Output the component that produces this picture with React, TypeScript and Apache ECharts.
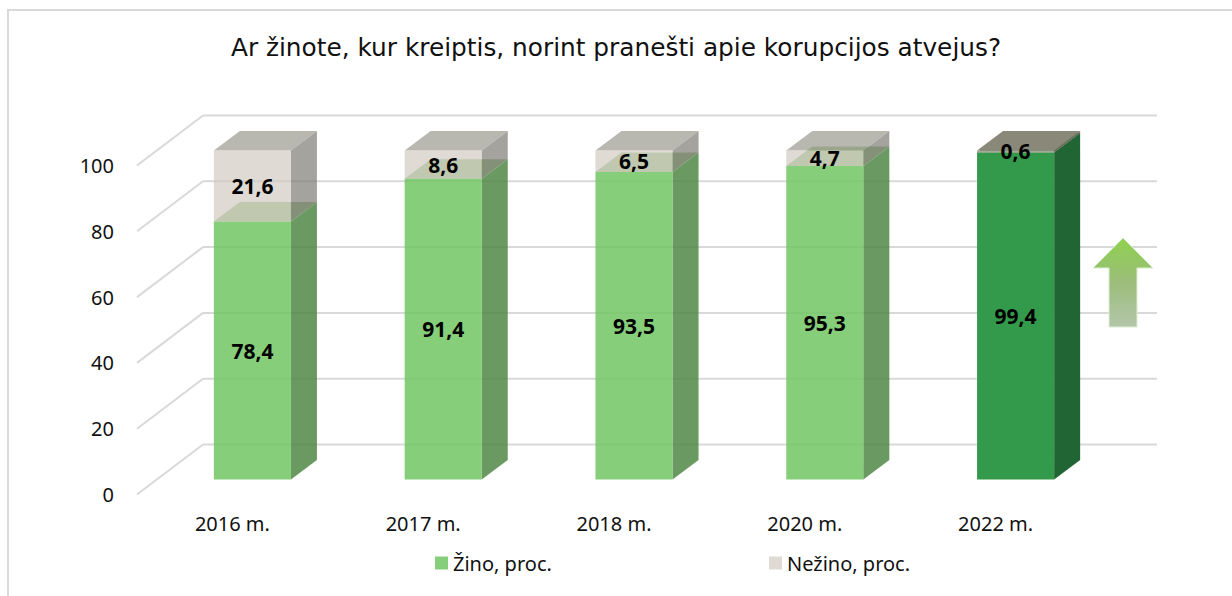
import React, { useEffect, useRef } from "react";
import * as echarts from "echarts";

// ---- data ----
const chartTitle = "Ar žinote, kur kreiptis, norint pranešti apie korupcijos atvejus?";
const categories = ["2016 m.", "2017 m.", "2018 m.", "2020 m.", "2022 m."];
const zino = [78.4, 91.4, 93.5, 95.3, 99.4];
const nezino = [21.6, 8.6, 6.5, 4.7, 0.6];
const yTicks = [0, 20, 40, 60, 80, 100];
const seriesNames = ["Žino, proc.", "Nežino, proc."];

// ---- geometry / styles ----
const FONT = "Noto Sans";
const TITLE_FONT = "DejaVu Sans";
const WALL_DX = 66;
const WALL_DY = -50;
const BAR_OFF_DX = 20;
const BAR_OFF_DY = -15;
const BAR_DX = 26;
const BAR_DY = -19.5;
const BAR_W_RATIO = 0.404;
const GRID_COLOR = "#D9D9D9";

type Palette = { front: string; side: string; top: string };
const zinoPalette: Palette = {
  front: "rgba(113,197,99,0.85)",
  side: "rgba(80,136,70,0.85)",
  top: "rgba(134,180,113,0.85)",
};
const zinoHighlight: Palette = { front: "#349A4B", side: "#226535", top: "#2A7A3A" };
const nezinoPalette: Palette = {
  front: "rgba(209,204,194,0.7)",
  side: "rgba(126,124,115,0.7)",
  top: "rgba(155,154,142,0.7)",
};
const nezinoHighlight: Palette = { front: "#A8A698", side: "#6F6D60", top: "#8A8878" };

const fmt = (v: number) => String(v).replace(".", ",");

function makeBarRender(normal: Palette, highlight: Palette, labels: number[]) {
  return (params: any, api: any) => {
    const idx = api.value(0);
    const base = api.value(1);
    const top = api.value(2);
    const p0 = api.coord([idx, base]);
    const p1 = api.coord([idx, top]);
    const band = api.size([1, 0])[0];
    const w = band * BAR_W_RATIO;
    const xl = p0[0] - w / 2 + BAR_OFF_DX;
    const xr = xl + w;
    const yb = p0[1] + BAR_OFF_DY;
    const yt = p1[1] + BAR_OFF_DY;
    const pal = idx === categories.length - 1 ? highlight : normal;
    return {
      type: "group",
      children: [
        {
          type: "polygon",
          shape: {
            points: [
              [xr, yb],
              [xr + BAR_DX, yb + BAR_DY],
              [xr + BAR_DX, yt + BAR_DY],
              [xr, yt],
            ],
          },
          style: { fill: pal.side },
        },
        {
          type: "polygon",
          shape: {
            points: [
              [xl, yt],
              [xr, yt],
              [xr + BAR_DX, yt + BAR_DY],
              [xl + BAR_DX, yt + BAR_DY],
            ],
          },
          style: { fill: pal.top },
        },
        {
          type: "rect",
          shape: { x: xl, y: yt, width: w, height: yb - yt },
          style: { fill: pal.front },
        },
        {
          type: "text",
          style: {
            x: (xl + xr) / 2,
            y: (yt + yb) / 2,
            text: fmt(labels[idx]),
            align: "center",
            verticalAlign: "middle",
            fill: "#000000",
            font: `bold 21px "${FONT}"`,
          },
        },
      ],
    };
  };
}

export default function App() {
  const ref = useRef<HTMLDivElement>(null);

  useEffect(() => {
    document.body.style.margin = "0";
    if (!ref.current) return;
    const chart = echarts.init(ref.current, undefined, { renderer: "svg" });

    const option: any = {
      animation: false,
      backgroundColor: "#ffffff",
      textStyle: { fontFamily: FONT },
      title: {
        text: chartTitle,
        left: "center",
        top: 30,
        textStyle: { fontFamily: TITLE_FONT, fontSize: 24.8, fontWeight: "normal", color: "#111111" },
      },
      legend: [
        {
          data: [seriesNames[0]],
          left: 430,
          top: 548,
          icon: "rect",
          itemWidth: 13,
          itemHeight: 13,
          textStyle: { fontFamily: FONT, fontSize: 20, color: "#111111" },
        },
        {
          data: [seriesNames[1]],
          left: 764,
          top: 548,
          icon: "rect",
          itemWidth: 13,
          itemHeight: 13,
          textStyle: { fontFamily: FONT, fontSize: 20, color: "#111111" },
        },
      ],
      grid: { left: 137, right: 141, top: 165.5, bottom: 101.5 },
      xAxis: {
        type: "category",
        data: categories,
        axisLine: { show: false },
        axisTick: { show: false },
        splitLine: { show: false },
        axisLabel: { fontFamily: FONT, fontSize: 20, color: "#111111", margin: 19 },
      },
      yAxis: {
        type: "value",
        min: 0,
        max: 100,
        interval: 20,
        axisLine: { show: false },
        axisTick: { show: false },
        splitLine: { show: false },
        axisLabel: { fontFamily: FONT, fontSize: 20, color: "#111111", margin: 23 },
      },
      graphic: [
        {
          type: "rect",
          shape: { x: 8, y: 10, width: 1400, height: 800 },
          style: { fill: "none", stroke: GRID_COLOR, lineWidth: 2 },
          silent: true,
          z: 0,
        },
        {
          type: "polygon",
          shape: {
            points: [
              [1123, 238],
              [1153, 268],
              [1137, 268],
              [1137, 327],
              [1109, 327],
              [1109, 268],
              [1093, 268],
            ],
          },
          style: {
            fill: new echarts.graphic.LinearGradient(0, 0, 0, 1, [
              { offset: 0, color: "#8FD14F" },
              { offset: 0.5, color: "#9BBD7A" },
              { offset: 1, color: "#B3C6AB" },
            ]),
            stroke: "#DCEFD0",
            lineWidth: 1,
          },
          silent: true,
          z: 10,
        },
      ],
      series: [
        {
          type: "custom",
          name: "grid3d",
          silent: true,
          clip: false,
          z: 1,
          data: yTicks.map((t) => [0, t]),
          encode: { x: 0, y: 1 },
          renderItem: (params: any, api: any) => {
            const cs = params.coordSys;
            const y = api.coord([0, api.value(1)])[1];
            return {
              type: "group",
              children: [
                {
                  type: "line",
                  shape: { x1: cs.x, y1: y, x2: cs.x + WALL_DX, y2: y + WALL_DY },
                  style: { stroke: GRID_COLOR, lineWidth: 2 },
                },
                {
                  type: "line",
                  shape: {
                    x1: cs.x + WALL_DX,
                    y1: y + WALL_DY,
                    x2: cs.x + cs.width + WALL_DX,
                    y2: y + WALL_DY,
                  },
                  style: { stroke: GRID_COLOR, lineWidth: 2 },
                },
              ],
            };
          },
        },
        {
          type: "custom",
          name: seriesNames[0],
          clip: false,
          z: 2,
          itemStyle: { color: "#86CE7A" },
          data: zino.map((v, i) => [i, 0, v]),
          encode: { x: 0, y: [1, 2] },
          renderItem: makeBarRender(zinoPalette, zinoHighlight, zino),
        },
        {
          type: "custom",
          name: seriesNames[1],
          clip: false,
          z: 3,
          itemStyle: { color: "#DFDBD4" },
          data: nezino.map((v, i) => [i, zino[i], zino[i] + v]),
          encode: { x: 0, y: [1, 2] },
          renderItem: makeBarRender(nezinoPalette, nezinoHighlight, nezino),
        },
      ],
    };

    chart.setOption(option);
    return () => chart.dispose();
  }, []);

  return (
    <div
      ref={ref}
      style={{ position: "absolute", left: 0, top: 0, width: 1232, height: 596 }}
    />
  );
}
